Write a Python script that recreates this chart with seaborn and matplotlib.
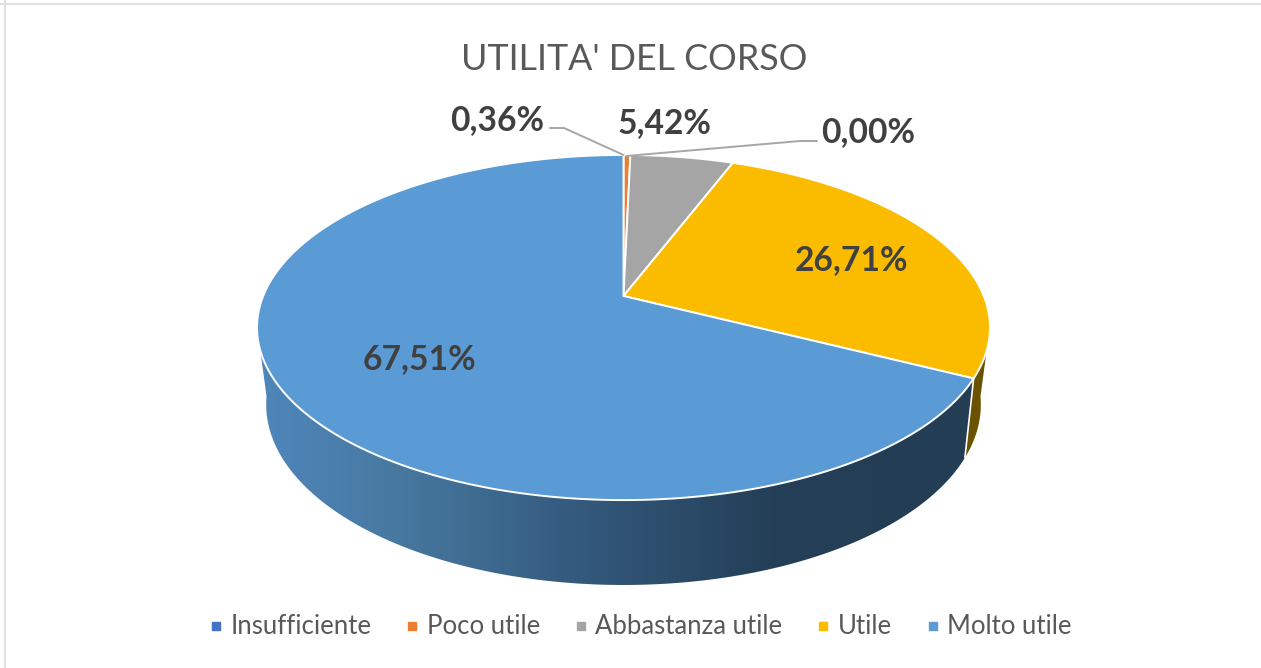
import numpy as np
import matplotlib
matplotlib.use("Agg")
import matplotlib.pyplot as plt
import seaborn as sns
from matplotlib.colors import LinearSegmentedColormap
from matplotlib.lines import Line2D
from matplotlib.patches import Polygon
from matplotlib.path import Path
from matplotlib.transforms import Transform

title = "UTILITA' DEL CORSO"
categories = ["Insufficiente", "Poco utile", "Abbastanza utile", "Utile", "Molto utile"]
values = [0.00, 0.36, 5.42, 26.71, 67.51]
palette = ["#4472C4", "#ED7D31", "#A5A5A5", "#FBBC00", "#5B9BD5"]

sns.set_theme(style="white")
plt.rcParams["font.family"] = ["Lato", "DejaVu Sans"]


class Tilt(Transform):
    """Perspective view of the unit-circle pie, output in figure pixels."""
    input_dims = output_dims = 2

    def __init__(self, x0, y0, a, b, k=0.1827):
        super().__init__()
        self.x0, self.y0, self.a, self.b, self.k = x0, y0, a, b, k

    def transform_non_affine(self, xy):
        xy = np.asarray(xy, float)
        w = 1 + self.k * xy[:, 1]
        return np.column_stack([self.x0 + self.a * xy[:, 0] / w,
                                self.y0 - self.b * xy[:, 1] / w])

    def transform_path_non_affine(self, path):
        pts = [seg(np.linspace(0, 1, 60)) for seg, _ in path.iter_bezier()]
        return Path(self.transform_non_affine(np.vstack(pts)))


top = Tilt(623.5, 296, 360.3, 166.8)
bottom = Tilt(623.5, 371.6, 351.3, 174.4)


def rim(tilt, start, stop):
    phi = np.radians(np.linspace(start, stop, 200))
    return tilt.transform_non_affine(np.column_stack([np.sin(phi), np.cos(phi)]))


def wall(top_start, top_stop, low_start, low_stop):
    return np.vstack([rim(top, top_start, top_stop), rim(bottom, low_stop, low_start)])


fig = plt.figure(figsize=(12.61, 6.68), dpi=100, facecolor="white")
ax = fig.add_axes([0, 0, 1, 1])
wedges, _ = ax.pie(values, colors=palette, startangle=90, counterclock=False,
                   wedgeprops=dict(edgecolor="white", linewidth=1.4, zorder=5))
for w in wedges:
    w.set_transform(top + ax.transData)

# side walls of the two front slices
edges = np.cumsum(values) * 3.6
ax.add_patch(Polygon(wall(108, edges[3], 98, edges[3]), closed=True, facecolor="#6B5200",
                     edgecolor="none", zorder=2))
front_xy = wall(edges[3], 252, edges[3], 262)
front = Polygon(front_xy, closed=True, facecolor="none", edgecolor="none", zorder=3)
ax.add_patch(front)
shade = LinearSegmentedColormap.from_list(
    "shade", [(0, "#4F87BC"), (0.2, "#47789F"), (0.47, "#32577A"),
              (0.72, "#243F57"), (1, "#233D54")])
im = ax.imshow(np.linspace(0, 1, 256)[None, :], cmap=shade, aspect="auto",
               extent=(255, 975, 600, 340), zorder=3)
im.set_clip_path(front)
seam = np.vstack([rim(top, edges[3], edges[3])[:1], rim(bottom, edges[3], edges[3])[:1]])
ax.plot(*seam.T, color="white", lw=1.2, zorder=4)

# leader lines
anchor = top.transform_non_affine(np.array([[0.0, 1.0]]))[0]
ax.plot([550, 564, anchor[0]], [128, 128, anchor[1]], color="#A6A6A6", lw=1.4, zorder=6)
ax.plot([817, 800, anchor[0] + 3], [141, 141, anchor[1] + 1], color="#A6A6A6", lw=1.4, zorder=6)

# data labels
label_xy = [(868, 132), (497, 120), (664, 123), (851, 260), (419, 359)]
for (x, y), v in zip(label_xy, values):
    ax.text(x, y, f"{v:.2f}%".replace(".", ","), ha="center", va="center",
            fontsize=24.2, fontweight="bold", color="#404040", zorder=7)

ax.text(634, 59, title, ha="center", va="center", fontsize=25.8, color="#595959")

handles = [Line2D([], [], linestyle="none", marker="s", markersize=6.2, color=c) for c in palette]
ax.legend(handles, categories, loc="center", bbox_to_anchor=(640.5 / 1261, 1 - 627 / 668),
          ncol=5, frameon=False, fontsize=18.5, labelcolor="#595959", handlelength=0.5,
          handletextpad=0.3, columnspacing=1.35, borderpad=0)

# chart frame
ax.axhline(4, color="#E0E0E0", lw=1.5, zorder=1)
ax.axvline(5, color="#E0E0E0", lw=1.5, zorder=1)

ax.set_aspect("auto")
ax.set_xlim(0, 1261)
ax.set_ylim(668, 0)
ax.set_axis_off()
fig.savefig("out.png", dpi=100, facecolor="white")
